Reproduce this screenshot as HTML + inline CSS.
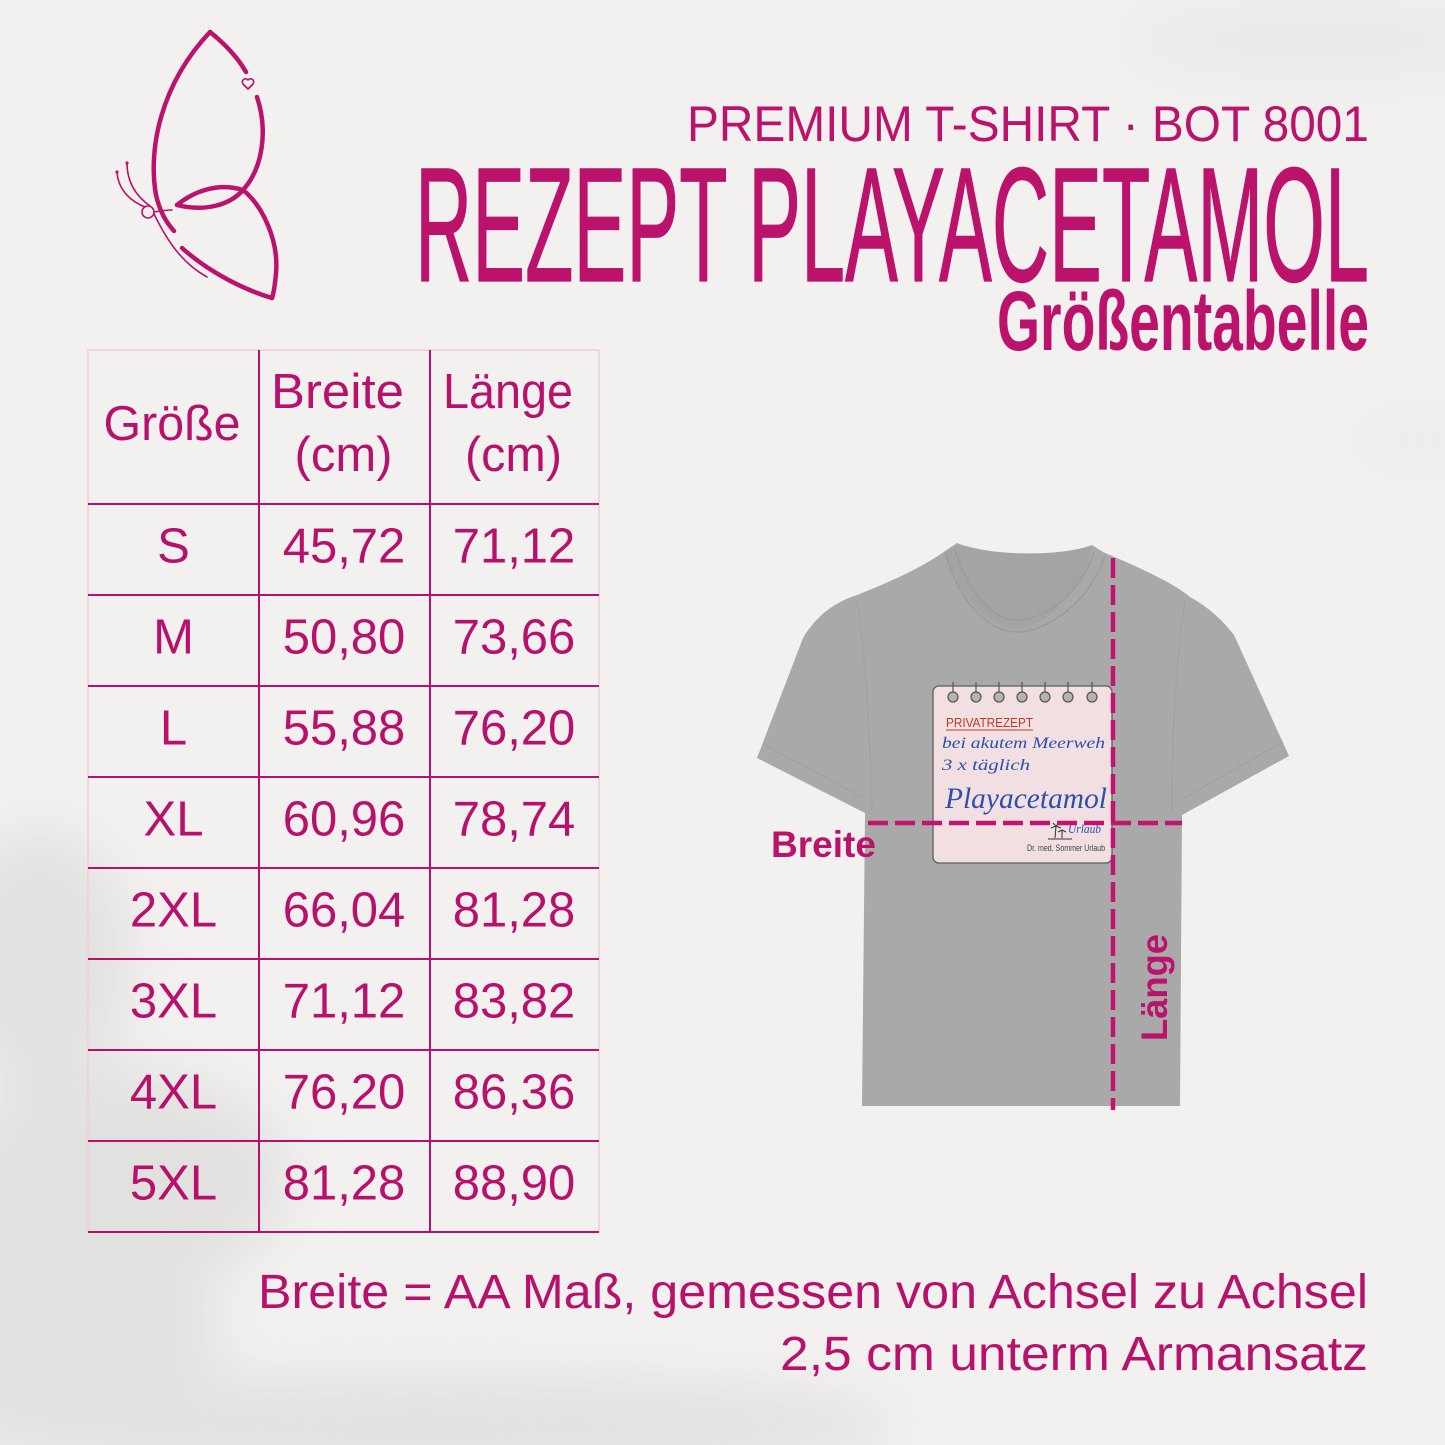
<!DOCTYPE html>
<html>
<head>
<meta charset="utf-8">
<style>
  html,body{margin:0;padding:0;background:#f2f1ef;}
  svg{display:block;}
  .sans{font-family:"Liberation Sans", "DejaVu Sans", sans-serif;}
</style>
</head>
<body>
<svg width="1445" height="1445" viewBox="0 0 1445 1445" xmlns="http://www.w3.org/2000/svg">
  <defs>
    <filter id="blur" x="-50%" y="-50%" width="200%" height="200%"><feGaussianBlur stdDeviation="28"/></filter>
  </defs>

  <!-- background paper -->
  <rect x="0" y="0" width="1445" height="1445" fill="#f2f1ef"/>
  <g filter="url(#blur)" fill="#d2d2d2" opacity="0.5">
    <ellipse cx="40" cy="960" rx="90" ry="130"/>
    <ellipse cx="120" cy="1180" rx="170" ry="110"/>
    <ellipse cx="60" cy="1330" rx="160" ry="90"/>
    <ellipse cx="420" cy="1425" rx="480" ry="50"/>
  </g>
  <g filter="url(#blur)" fill="#d8d8d8" opacity="0.3">
    <ellipse cx="1320" cy="40" rx="200" ry="40"/>
    <ellipse cx="1420" cy="440" rx="70" ry="20"/>
  </g>

  <!-- butterfly logo -->
  <g fill="none" stroke="#bb136c" stroke-linecap="round" stroke-linejoin="round">
    <g stroke-width="4.5">
      <path d="M 174 231 C 166 222, 160 212, 156 195 C 148 150, 160 85, 210 32"/>
      <path d="M 210 32 C 225 44, 238 58, 246 72"/>
      <path d="M 257 97 C 268 130, 263 168, 243 190 C 230 205, 205 212, 177 205"/>
      <path d="M 177 205 C 193 192, 217 182, 243 190 C 262 205, 279 240, 276 273 C 275 285, 274 292, 272 298"/>
      <path d="M 272 298 C 245 290, 210 273, 182 248"/>
    </g>
    <g stroke-width="1.6">
      <path d="M 248 89 L 243 84 A 2.6 2.6 0 0 1 248 80 A 2.6 2.6 0 0 1 253 84 Z"/>
      <circle cx="148" cy="212" r="6"/>
      <path d="M 150 206 C 136 196, 127 182, 127 163"/>
      <path d="M 145 207 C 128 200, 118 188, 117 172"/>
      <path d="M 154 214 C 166 238, 180 262, 207 277"/>
      <path d="M 154 212 C 160 211, 166 210, 172 210"/>
    </g>
    <circle cx="127" cy="163" r="1.6" fill="#bb136c" stroke="none"/>
    <circle cx="117" cy="172" r="1.6" fill="#bb136c" stroke="none"/>
  </g>

  <!-- titles -->
  <g class="sans" fill="#bb136c">
    <text x="687" y="141" font-size="50" textLength="682" lengthAdjust="spacingAndGlyphs">PREMIUM T-SHIRT · BOT 8001</text>
    <text x="415" y="281" font-size="163" textLength="954" lengthAdjust="spacingAndGlyphs" stroke="#bb136c" stroke-width="1.2">REZEPT PLAYACETAMOL</text>
    <text x="997" y="350" font-size="84" font-weight="bold" textLength="372" lengthAdjust="spacingAndGlyphs">Größentabelle</text>
  </g>

  <!-- table -->
  <rect x="88" y="350" width="511" height="882" fill="none" stroke="#f1cbd9" stroke-width="1.5"/>
  <g stroke="#b8116c" stroke-width="2">
    <line x1="259" y1="350" x2="259" y2="1232"/>
    <line x1="430" y1="350" x2="430" y2="1232"/>
    <line x1="88" y1="504" x2="599" y2="504"/>
    <line x1="88" y1="595" x2="599" y2="595"/>
    <line x1="88" y1="686" x2="599" y2="686"/>
    <line x1="88" y1="777" x2="599" y2="777"/>
    <line x1="88" y1="868" x2="599" y2="868"/>
    <line x1="88" y1="959" x2="599" y2="959"/>
    <line x1="88" y1="1050" x2="599" y2="1050"/>
    <line x1="88" y1="1141" x2="599" y2="1141"/>
    <line x1="88" y1="1232" x2="599" y2="1232"/>
  </g>
  <g class="sans" fill="#b8116c" font-size="49" text-anchor="middle">
    <text x="172" y="440" textLength="137" lengthAdjust="spacingAndGlyphs">Größe</text>
    <text x="337.5" y="408" textLength="133" lengthAdjust="spacingAndGlyphs">Breite</text>
    <text x="343.5" y="471" textLength="98" lengthAdjust="spacingAndGlyphs">(cm)</text>
    <text x="508" y="408" textLength="130" lengthAdjust="spacingAndGlyphs">Länge</text>
    <text x="513.5" y="471" textLength="97" lengthAdjust="spacingAndGlyphs">(cm)</text>

    <text x="173.5" y="562.5">S</text><text x="344" y="562.5">45,72</text><text x="514" y="562.5">71,12</text>
    <text x="173.5" y="653.5">M</text><text x="344" y="653.5">50,80</text><text x="514" y="653.5">73,66</text>
    <text x="173.5" y="744.5">L</text><text x="344" y="744.5">55,88</text><text x="514" y="744.5">76,20</text>
    <text x="173.5" y="835.5">XL</text><text x="344" y="835.5">60,96</text><text x="514" y="835.5">78,74</text>
    <text x="173.5" y="926.5">2XL</text><text x="344" y="926.5">66,04</text><text x="514" y="926.5">81,28</text>
    <text x="173.5" y="1017.5">3XL</text><text x="344" y="1017.5">71,12</text><text x="514" y="1017.5">83,82</text>
    <text x="173.5" y="1108.5">4XL</text><text x="344" y="1108.5">76,20</text><text x="514" y="1108.5">86,36</text>
    <text x="173.5" y="1199.5">5XL</text><text x="344" y="1199.5">81,28</text><text x="514" y="1199.5">88,90</text>
  </g>

  <!-- footnote -->
  <g class="sans" fill="#b8116c" font-size="48">
    <text x="258" y="1308" textLength="1110" lengthAdjust="spacingAndGlyphs">Breite = AA Maß, gemessen von Achsel zu Achsel</text>
    <text x="780" y="1370" textLength="588" lengthAdjust="spacingAndGlyphs">2,5 cm unterm Armansatz</text>
  </g>

  <!-- T-shirt -->
  <g>
    <path d="M 957 543 C 990 556, 1060 557, 1092 545 L 1103 552 C 1140 568, 1172 582, 1190 597 C 1210 608, 1224 622, 1234 635 L 1289 756 L 1182 815 L 1180 1106 L 862 1106 L 865 813 L 757 758 L 803 638 C 815 618, 832 603, 857 595 C 890 582, 925 566, 945 551 Z" fill="#a9a9a9"/>
    <!-- back neck -->
    <path d="M 957 545 C 990 556, 1060 557, 1092 546 C 1080 600, 1040 628, 1017 628 C 990 628, 960 600, 945 553 Z" fill="#a4a4a4"/>
    <!-- collar rib -->
    <g fill="none" stroke="#9b9b9b" stroke-width="1.5">
      <path d="M 945 553 C 960 605, 990 632, 1017 632 C 1045 632, 1088 605, 1105 556"/>
      <path d="M 955 550 C 970 598, 995 620, 1018 620 C 1042 620, 1078 598, 1094 552"/>
    </g>
    <!-- sleeve seams -->
    <g fill="none" stroke="#9f9f9f" stroke-width="1.5" opacity="0.7">
      <path d="M 857 600 C 866 660, 870 730, 872 810"/>
      <path d="M 1185 600 C 1176 660, 1172 730, 1172 812"/>
      <path d="M 763 744 L 862 797"/>
      <path d="M 1283 742 L 1184 798"/>
    </g>
  </g>

  <!-- prescription note -->
  <g>
    <rect x="933" y="686" width="179" height="177" rx="6" fill="#f2dfe2" stroke="#5e5e5e" stroke-width="1.3"/>
    <g fill="#b3b3b3" stroke="#555" stroke-width="1.2">
      <line x1="953" y1="682" x2="953" y2="692"/><circle cx="953" cy="697" r="5"/>
      <line x1="976" y1="682" x2="976" y2="692"/><circle cx="976" cy="697" r="5"/>
      <line x1="999" y1="682" x2="999" y2="692"/><circle cx="999" cy="697" r="5"/>
      <line x1="1022" y1="682" x2="1022" y2="692"/><circle cx="1022" cy="697" r="5"/>
      <line x1="1045" y1="682" x2="1045" y2="692"/><circle cx="1045" cy="697" r="5"/>
      <line x1="1068" y1="682" x2="1068" y2="692"/><circle cx="1068" cy="697" r="5"/>
      <line x1="1092" y1="682" x2="1092" y2="692"/><circle cx="1092" cy="697" r="5"/>
    </g>
    <text x="946" y="727" class="sans" font-size="13" fill="#c0392b" textLength="87" lengthAdjust="spacingAndGlyphs">PRIVATREZEPT</text>
    <line x1="946" y1="730" x2="1033" y2="730" stroke="#c0392b" stroke-width="1"/>
    <g font-family="'Liberation Serif', 'DejaVu Serif', serif" font-style="italic" fill="#2d4fae">
      <text x="942" y="748" font-size="16" textLength="163" lengthAdjust="spacingAndGlyphs">bei akutem Meerweh</text>
      <text x="942" y="770" font-size="16" textLength="88" lengthAdjust="spacingAndGlyphs">3 x täglich</text>
      <text x="945" y="808" font-size="30" textLength="162" lengthAdjust="spacingAndGlyphs">Playacetamol</text>
      <text x="1068" y="833" font-size="13" textLength="33" lengthAdjust="spacingAndGlyphs">Urlaub</text>
    </g>
    <g stroke="#333" stroke-width="1" fill="none">
      <path d="M 1055 838 L 1056 826 M 1056 826 l -5 2 M 1056 826 l 5 2 M 1056 826 l -3 -3 M 1056 826 l 3 -3"/>
      <path d="M 1062 838 L 1062 830 M 1062 830 l -4 2 M 1062 830 l 4 2"/>
      <path d="M 1048 839 L 1072 839"/>
    </g>
    <text x="1027" y="851" class="sans" font-size="9" fill="#444" textLength="78" lengthAdjust="spacingAndGlyphs">Dr. med. Sommer Urlaub</text>
  </g>

  <!-- measurement lines -->
  <g stroke="#c2136f" stroke-width="4.5" stroke-dasharray="20 7" fill="none">
    <line x1="868" y1="823" x2="1182" y2="823"/>
    <line x1="1113" y1="558" x2="1113" y2="1110"/>
  </g>
  <g class="sans" fill="#bb136c" font-weight="bold">
    <text x="771" y="857" font-size="37" textLength="105" lengthAdjust="spacingAndGlyphs">Breite</text>
    <text transform="translate(1167,1041) rotate(-90)" x="0" y="0" font-size="37" textLength="107" lengthAdjust="spacingAndGlyphs">Länge</text>
  </g>
</svg>
</body>
</html>
